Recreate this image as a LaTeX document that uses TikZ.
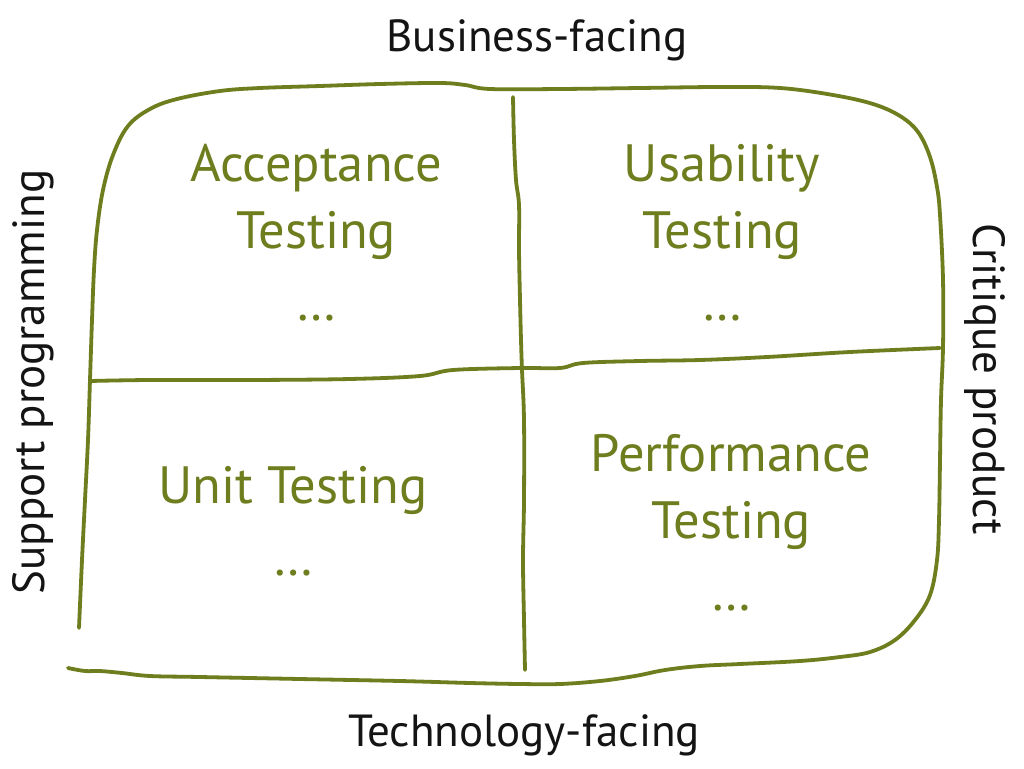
\documentclass[tikz,border=0pt]{standalone}
\usepackage{fontspec}
\setmainfont{PT Sans}
\begin{document}
\definecolor{olive}{RGB}{110,125,30}
\definecolor{ink}{RGB}{20,20,20}
\begin{tikzpicture}[x=1pt,y=-1pt,
  sketch/.style={draw=olive,line width=3.8pt,line cap=round,line join=round},
  quad/.style={text=olive,align=center,anchor=north,inner sep=0pt,
    font=\fontsize{52.5}{67}\selectfont},
  axis/.style={text=ink,anchor=base,inner sep=0pt,font=\fontsize{45}{54}\selectfont}]
\path[fill=white] (0,0) rectangle (1024,768);
\useasboundingbox (0,0) rectangle (1024,768);
% outer hand-drawn outline
\draw[sketch] plot[smooth,tension=0.6] coordinates {
 (79,628) (82,560) (85,500) (88,440) (90,380) (92,320) (94,270) (97,230)
 (103,190) (113,155) (128,126) (150,109) (177,99) (220,91) (260,88)
 (320,86) (380,84) (440,83) (465,85) (490,89) (560,89) (640,88) (720,87)
 (780,88) (833,95) (873,104) (900,116) (918,132) (930,157) (937,187)
 (940,215) (943,280) (943,347) (941,400) (940,460) (939,520) (937,560)
 (930,595) (915,620) (895,640) (870,652) (840,657) (800,661) (740,664)
 (700,666) (665,670) (635,676) (600,681) (560,684) (520,684) (470,683)
 (400,681) (300,679) (200,677) (150,676) (122,673) (100,671) (85,671) (68,668)};
% vertical divider
\draw[sketch] plot[smooth,tension=0.6] coordinates {
 (513,97) (514,140) (516,180) (519,205) (519,250) (520,300) (521,340)
 (522,370) (524,420) (524,500) (523,560) (524,620) (525,670)};
% horizontal divider
\draw[sketch] plot[smooth,tension=0.6] coordinates {
 (90,381) (150,380) (250,380) (350,379) (420,376) (453,370) (520,368)
 (560,368) (583,363) (640,361) (700,360) (767,357) (850,352) (940,348)};
% quadrant labels
\node[quad] (acc) at (316,144) {Acceptance\\Testing\\[5pt]…};
\node[quad] (usa) at (722,144) {Usability\\Testing\\[5pt]…};
\node[quad] (unit) at (293,466) {Unit Testing\\[5pt]…};
\node[quad] (perf) at (731,434) {Performance\\Testing\\[5pt]…};
% axis labels
\node[axis] (bus) at (537,52) {Business-facing};
\node[axis] (tech) at (524,746) {Technology-facing};
\node[axis,rotate=90] (sup) at (44,382) {Support programming};
\node[axis,rotate=-90] (crit) at (973,379) {Critique product};
\end{tikzpicture}
\end{document}
